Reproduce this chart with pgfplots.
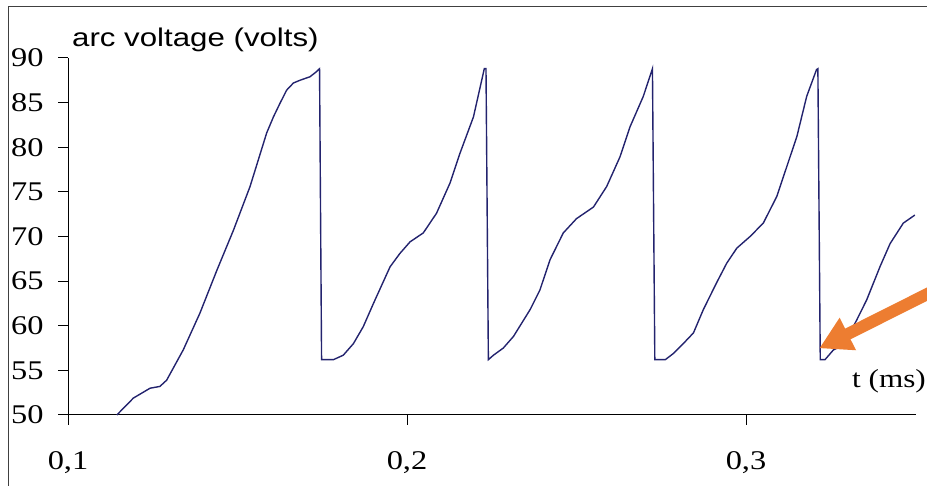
\documentclass[border=0pt]{standalone}
\usepackage{pgfplots}
\pgfplotsset{compat=1.18}
\usepackage{fontspec}
\setmainfont[FakeStretch=1.2]{Liberation Serif}
\newfontfamily\arialfont[FakeStretch=1.22]{Liberation Sans}
\usetikzlibrary{arrows.meta}
\definecolor{curve}{RGB}{35,35,110}
\definecolor{arroworange}{RGB}{237,125,49}
\begin{document}
\begin{tikzpicture}[x=1bp,y=1bp]
\useasboundingbox (0,0) rectangle (927,486);
\clip (0,0) rectangle (927,486);
\draw[line width=1bp, black!75] (8,-20) -- (8,479) -- (950,479);
\begin{axis}[
  at={(68bp,71bp)}, anchor=south west,
  scale only axis, width=847.5bp, height=357bp,
  xmin=0.1, xmax=0.35, ymin=50, ymax=90,
  clip=false,
  axis x line=bottom, axis y line=left,
  axis line style={-, line width=1bp, black},
  tick align=outside, major tick length=10bp,
  tick style={line width=1bp, black},
  xtick={0.1,0.2,0.3}, ytick={50,55,...,90},
  /pgf/number format/assume math mode=true,
  tick label style={font=\fontsize{27bp}{30bp}\selectfont},
  xticklabel style={/pgf/number format/fixed, /pgf/number format/precision=1, /pgf/number format/use comma, yshift=-23bp},
  yticklabel style={xshift=-11bp},
]
\addplot[curve, line width=1.4bp] coordinates {
(0.1144,50.0) (0.1193,51.9) (0.1242,53.0) (0.1271,53.2) (0.1291,53.9)
(0.1340,57.3) (0.1389,61.4) (0.1439,66.2) (0.1488,70.7) (0.1537,75.6)
(0.1586,81.6) (0.1606,83.4) (0.1625,84.9) (0.1645,86.4) (0.1665,87.2)
(0.1684,87.5) (0.1714,87.9) (0.1734,88.5) (0.1742,88.8) (0.1748,56.2) (0.1783,56.2)
(0.1812,56.7) (0.1842,58.0) (0.1871,59.9) (0.1901,62.5) (0.1950,66.6)
(0.1979,68.1) (0.2009,69.4) (0.2048,70.4) (0.2087,72.6) (0.2127,76.0)
(0.2156,79.3) (0.2196,83.4) (0.2228,88.8) (0.2233,88.8) (0.2240,56.2)
(0.2255,56.7) (0.2284,57.5) (0.2314,58.8) (0.2363,61.8) (0.2392,64.0)
(0.2422,67.4) (0.2461,70.4) (0.2500,72.0) (0.2550,73.3) (0.2589,75.6)
(0.2628,78.9) (0.2658,82.3) (0.2697,85.7) (0.2724,88.8) (0.2731,56.2)
(0.2762,56.2) (0.2786,56.9) (0.2815,58.0) (0.2845,59.2) (0.2874,61.8)
(0.2913,64.8) (0.2943,67.0) (0.2973,68.7) (0.3012,70.0) (0.3051,71.5)
(0.3091,74.5) (0.3120,77.8) (0.3150,81.2) (0.3179,85.7) (0.3208,88.7)
(0.3212,88.8) (0.3219,56.2) (0.3233,56.2) (0.3258,57.3) (0.3287,57.8)
(0.3326,60.6) (0.3356,62.9) (0.3395,66.6) (0.3425,69.2) (0.3464,71.5)
(0.3498,72.4)
};
\draw[arroworange, line width=12bp, -{Triangle[length=32bp,width=34bp]}]
  (axis cs:0.3600,64.8) -- (axis cs:0.3216,57.47);
\end{axis}
\node[anchor=base west, inner sep=0, font=\arialfont\fontsize{25.6bp}{30bp}\selectfont] at (72,439) {arc voltage (volts)};
\node[anchor=base west, inner sep=0, font=\fontsize{26bp}{30bp}\selectfont] at (852,98) {t (ms)};
\end{tikzpicture}
\end{document}
